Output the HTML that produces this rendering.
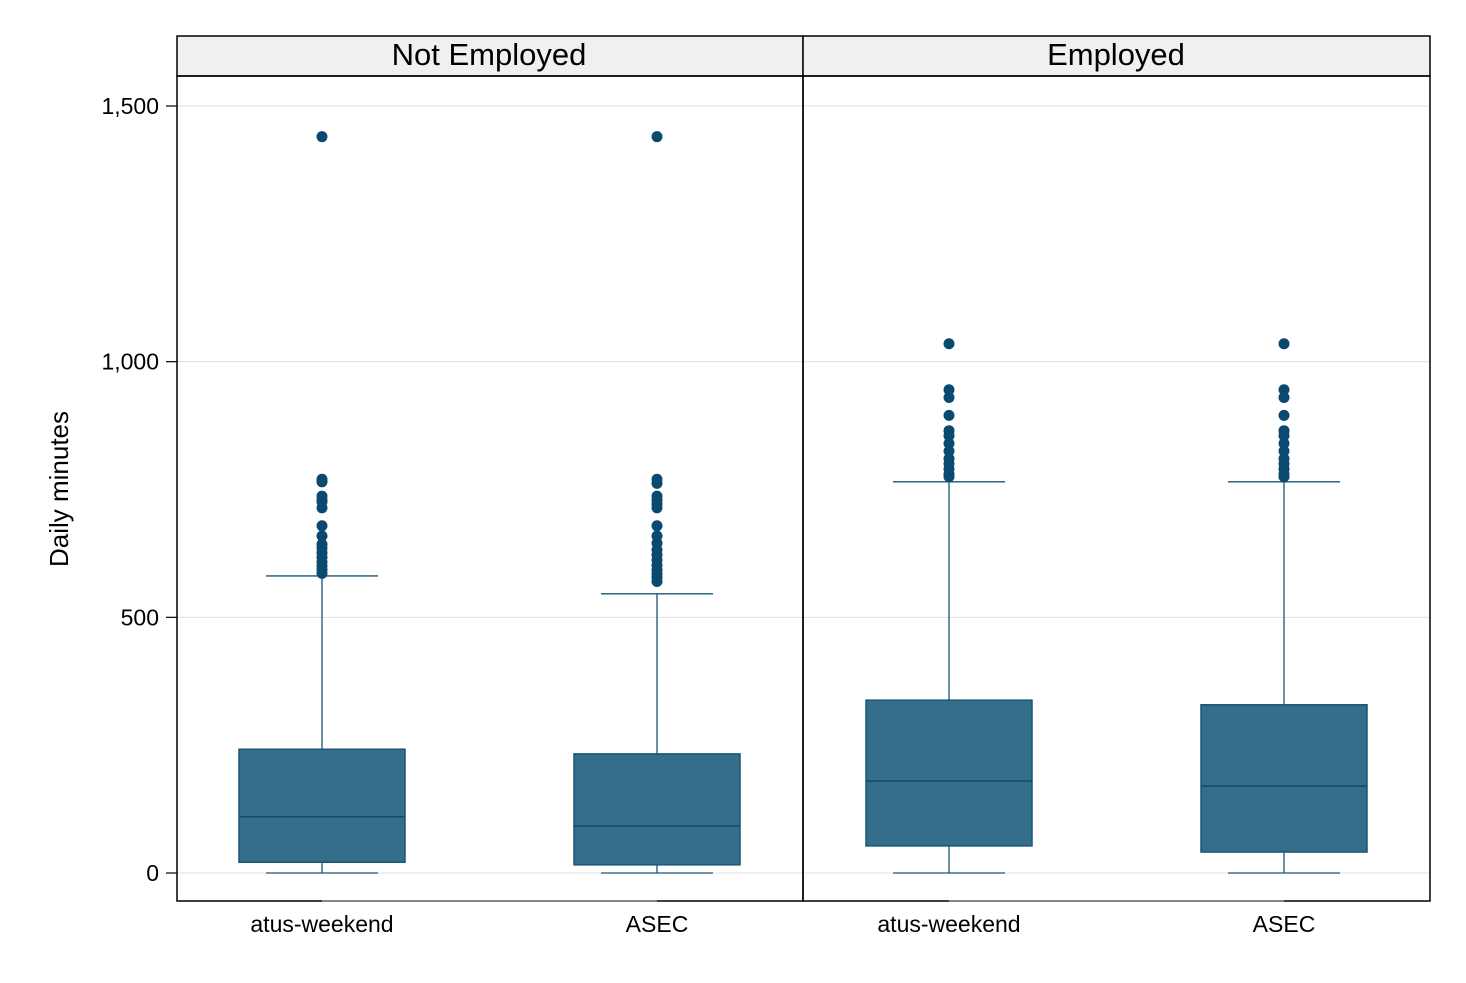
<!DOCTYPE html>
<html><head><meta charset="utf-8"><style>
body{margin:0;background:#fff;font-family:"Liberation Sans",Arial,sans-serif}
svg text{font-family:"Liberation Sans",Arial,sans-serif}
</style></head><body>
<svg id="chart" width="1466" height="978" xmlns="http://www.w3.org/2000/svg">
<rect width="1466" height="978" fill="#fff"/>
<g id="grid"></g>
<g id="ticks"></g>
<text x="0" y="0" transform="translate(68,489) rotate(-90)" text-anchor="middle" font-size="26">Daily minutes</text>
<rect x="177" y="36" width="626" height="40" fill="#f0f0f0" stroke="#000" stroke-width="1.5"/>
<rect x="803" y="36" width="627" height="40" fill="#f0f0f0" stroke="#000" stroke-width="1.5"/>
<text x="489" y="65" text-anchor="middle" font-size="31">Not Employed</text>
<text x="1116" y="65" text-anchor="middle" font-size="31">Employed</text>
<g id="boxes"></g>
<rect x="177" y="76" width="626" height="825" fill="none" stroke="#000" stroke-width="1.5"/>
<rect x="803" y="76" width="627" height="825" fill="none" stroke="#000" stroke-width="1.5"/>
<line x1="322" y1="901" x2="657" y2="901" stroke="#888" stroke-width="1.5"/>
<line x1="949" y1="901" x2="1284" y2="901" stroke="#888" stroke-width="1.5"/>
<g id="xlabels"></g>
</svg>
<script>
const categories = ["atus-weekend","ASEC","atus-weekend","ASEC"];
const panels = ["Not Employed","Not Employed","Employed","Employed"];
const q1 = [21, 16, 53, 41];
const median = [110, 92, 180, 170];
const q3 = [242, 233, 338, 329];
const whiskerLow = [0, 0, 0, 0];
const whiskerHigh = [581, 546, 765, 765];
const outliers = [
 [1440,770,765,737,730,726,714,679,659,643,635,626,617,608,600,593,586],
 [1440,770,762,737,730,722,714,679,659,645,632,622,612,602,593,585,578,570],
 [1035,945,930,895,865,855,840,825,810,800,790,780,775],
 [1035,945,930,895,865,855,840,825,810,800,790,780,775]
];
const yTicks = [0,500,1000,1500];
const yTickLabels = ["0","500","1,000","1,500"];

const NS="http://www.w3.org/2000/svg";
function yS(v){return 873-(v/1500)*767;}
const centers=[322,657,949,1284];
const halfW=83, capHalf=56;
function mk(tag,attrs,parent){const e=document.createElementNS(NS,tag);for(const k in attrs)e.setAttribute(k,attrs[k]);parent.appendChild(e);return e;}
const grid=document.getElementById('grid'),ticks=document.getElementById('ticks'),boxes=document.getElementById('boxes'),xl=document.getElementById('xlabels');
yTicks.forEach((t,i)=>{
 const y=yS(t);
 const g=mk('line',{x1:177,x2:1430,y1:y,y2:y,stroke:'#e0e0e0','stroke-width':1},grid);
 
 
 const tk=mk('line',{x1:166,x2:177,y1:y,y2:y,stroke:'#000','stroke-width':1.2},ticks);
 
 
 const tx=mk('text',{x:159,y:y+8,'text-anchor':'end','font-size':23},ticks);
 tx.textContent=yTickLabels[i];
 
 
});
categories.forEach((c,i)=>{
 const cx=centers[i];
 const g=mk('g',{},boxes);
 
 
 const st='#1a5577';
 mk('line',{x1:cx,x2:cx,y1:yS(whiskerHigh[i]),y2:yS(q3[i]),stroke:st,'stroke-width':1.3},g);
 mk('line',{x1:cx,x2:cx,y1:yS(q1[i]),y2:yS(whiskerLow[i]),stroke:st,'stroke-width':1.3},g);
 mk('line',{x1:cx-capHalf,x2:cx+capHalf,y1:yS(whiskerHigh[i]),y2:yS(whiskerHigh[i]),stroke:st,'stroke-width':1.3},g);
 mk('line',{x1:cx-capHalf,x2:cx+capHalf,y1:yS(whiskerLow[i]),y2:yS(whiskerLow[i]),stroke:st,'stroke-width':1.3},g);
 mk('rect',{x:cx-halfW,y:yS(q3[i]),width:2*halfW,height:yS(q1[i])-yS(q3[i]),fill:'#356e8b',stroke:st,'stroke-width':1.5},g);
 mk('line',{x1:cx-halfW,x2:cx+halfW,y1:yS(median[i]),y2:yS(median[i]),stroke:'#124a6a','stroke-width':1.5},g);
 outliers[i].forEach(v=>{
  const p=mk('circle',{cx:cx,cy:yS(v),r:5.5,fill:'#0b4a70'},g);
  
  
 });
 const t=mk('text',{x:cx,y:932,'text-anchor':'middle','font-size':23},xl);
 t.textContent=c;
 
 
});
</script>
</body></html>
